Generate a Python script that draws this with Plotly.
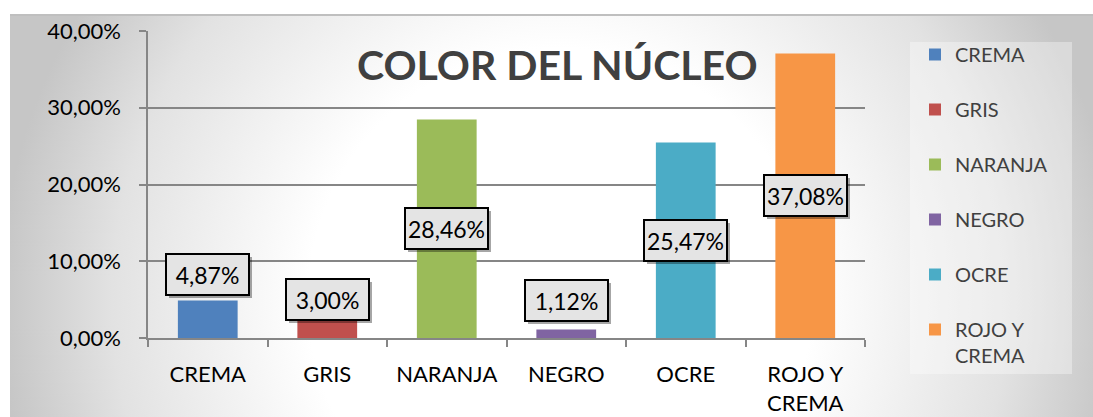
import base64
import plotly.graph_objects as go

# Data
categories = ["CREMA", "GRIS", "NARANJA", "NEGRO", "OCRE", "ROJO Y<br>CREMA"]
shares = [0.0487, 0.0300, 0.2846, 0.0112, 0.2547, 0.3708]
colors = ["#4F81BD", "#C0504D", "#9BBB59", "#8064A2", "#4BACC6", "#F79646"]
y_ticks = [0.0, 0.10, 0.20, 0.30, 0.40]

# Where each value box sits: "center" of the bar or just above it (with a pixel nudge)
label_mode = ["above", "above", "center", "above", "center", "center"]
label_nudge = [5, -6, 0, 7, 0, 0]

W, H = 1093, 417
ML, MR, MT, MB = 148, 228, 31, 79
PW, PH = W - ML - MR, H - MT - MB


def px_x(px):
    return (px - ML) / PW


def px_y(py):
    return (H - MB - py) / PH


# Radial grey backdrop for the chart area
bg_w, bg_h = W - 10, H - 14
svg = f"""<svg xmlns='http://www.w3.org/2000/svg' width='{bg_w}' height='{bg_h}' viewBox='0 0 {bg_w} {bg_h}' preserveAspectRatio='none'>
<defs><radialGradient id='g' gradientUnits='userSpaceOnUse' cx='550' cy='286' r='560'>
<stop offset='0' stop-color='#ffffff'/>
<stop offset='0.45' stop-color='#ffffff'/>
<stop offset='0.8' stop-color='#e2e2e2'/>
<stop offset='1' stop-color='#c6c6c6'/>
</radialGradient></defs>
<rect x='0' y='0' width='{bg_w}' height='{bg_h}' fill='url(#g)'/>
<line x1='0' y1='1' x2='{bg_w}' y2='1' stroke='#bfbfbf' stroke-width='2'/>
</svg>"""
bg_uri = "data:image/svg+xml;base64," + base64.b64encode(svg.encode()).decode()

fig = go.Figure()
for cat, val, col in zip(categories, shares, colors):
    fig.add_trace(go.Bar(
        x=[cat], y=[val], name=cat, legendgroup=cat,
        marker=dict(color=col, line=dict(width=0)),
        width=0.5, hoverinfo="skip",
    ))

annotations = []
for cat, val, mode, nudge in zip(categories, shares, label_mode, label_nudge):
    text = f"{val * 100:.2f}%".replace(".", ",")
    if mode == "center":
        y, yanchor = val / 2, "middle"
    else:
        y, yanchor = val, "bottom"
    common = dict(x=cat, y=y, xref="x", yref="y", yanchor=yanchor,
                  showarrow=False, width=79, height=37)
    # drop shadow
    annotations.append(dict(common, text=" ", bgcolor="rgba(0,0,0,0.35)",
                            borderwidth=2, bordercolor="rgba(0,0,0,0)",
                            xshift=3, yshift=nudge - 3))
    annotations.append(dict(common, text=text, bgcolor="#e4e4e4",
                            bordercolor="#000000", borderwidth=2, yshift=nudge,
                            font=dict(family="Lato", size=23, color="#000000")))

annotations.append(dict(
    text="<b>COLOR DEL NÚCLEO</b>", xref="paper", yref="paper",
    x=px_x(557), y=px_y(64), xanchor="center", yanchor="middle",
    showarrow=False, font=dict(family="Lato", size=41, color="#404040"),
))

fig.update_layout(
    width=W, height=H,
    margin=dict(l=ML, r=MR, t=MT, b=MB),
    paper_bgcolor="#ffffff", plot_bgcolor="rgba(0,0,0,0)",
    separators=",.",
    barmode="overlay",
    font=dict(family="Lato", size=22, color="#000000"),
    images=[dict(source=bg_uri, xref="paper", yref="paper",
                 x=px_x(10), y=px_y(14), sizex=bg_w / PW, sizey=bg_h / PH,
                 xanchor="left", yanchor="top", sizing="stretch", layer="below")],
    shapes=[dict(type="rect", xref="paper", yref="paper",
                 x0=px_x(910), x1=px_x(1072), y0=px_y(374), y1=px_y(42),
                 fillcolor="rgba(255,255,255,0.35)", line=dict(width=0), layer="below")],
    annotations=annotations,
    legend=dict(
        x=px_x(915), y=px_y(35), xanchor="left", yanchor="top",
        bgcolor="rgba(0,0,0,0)", borderwidth=0, maxheight=400,
        font=dict(family="Lato", size=20, color="#404040"),
        tracegroupgap=26, valign="top", itemclick=False, itemdoubleclick=False,
    ),
    showlegend=True,
    xaxis=dict(
        categoryorder="array", categoryarray=categories, automargin=False,
        showline=True, linecolor="#868686", linewidth=1.5,
        ticks="outside", tickson="boundaries", ticklen=7, tickcolor="#868686", tickwidth=1.5,
        showgrid=False, ticklabelstandoff=16,
        tickfont=dict(family="Lato", size=22, color="#000000"),
    ),
    yaxis=dict(
        range=[0, 0.40], tickvals=y_ticks, tickformat=".2%", automargin=False,
        showline=True, linecolor="#868686", linewidth=1.5,
        ticks="outside", ticklen=7, tickcolor="#868686", tickwidth=1.5,
        showgrid=True, gridcolor="#868686", gridwidth=1.5, zeroline=False,
        ticklabelstandoff=14,
        tickfont=dict(family="Lato", size=22, color="#000000"),
    ),
)

fig.write_html("out.html")
